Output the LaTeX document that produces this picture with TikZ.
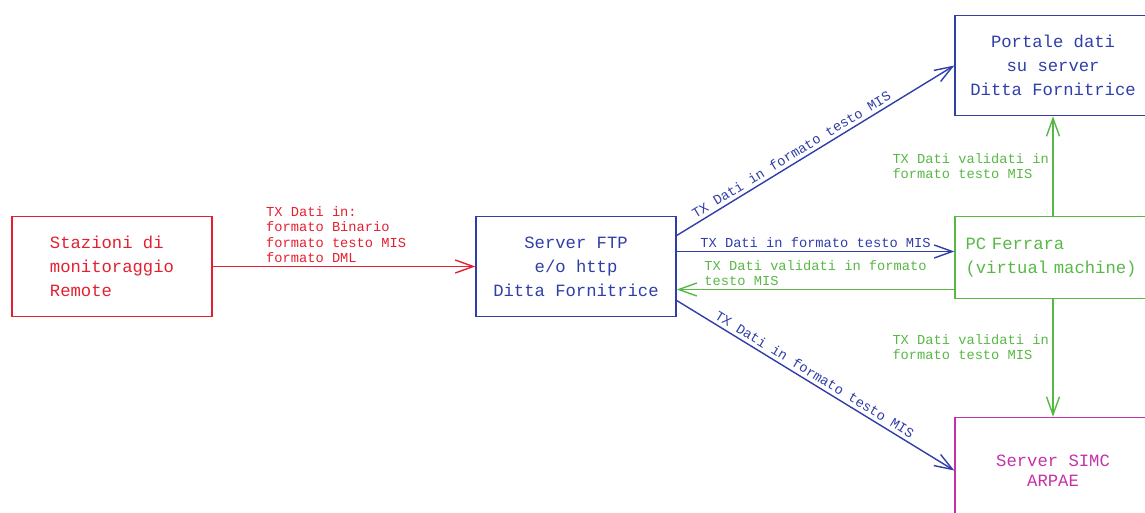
\documentclass[tikz,border=0pt]{standalone}
\usepackage{xcolor}
\usepackage{fontspec}
\setmonofont{Liberation Mono}
\usepackage{tikz}
\usetikzlibrary{positioning}
\usetikzlibrary{arrows.meta}

\definecolor{cadred}{RGB}{228,32,48}
\definecolor{cadblue}{RGB}{48,62,168}
\definecolor{cadgreen}{RGB}{88,184,70}
\definecolor{cadmag}{RGB}{196,50,168}

\begin{document}
\begin{tikzpicture}[-{Straight Barb[length=0.36cm,width=0.26cm]}, line width=0.8pt, on grid, box/.style ={rectangle, draw, minimum width=4cm, minimum height=2cm, font=\ttfamily\fontsize{9.8}{13.6}\selectfont}, lbl/.style={font=\ttfamily\fontsize{7.8}{8.6}\selectfont, inner sep=2pt}]
		\useasboundingbox (0,0) rectangle (22.9,10.24);
		\node[box, cadred, align=left] (remote) at (2.24,4.91) {Stazioni di\\monitoraggio\\Remote};
		\node[box, cadblue, align=center] (ftp) [right = 9.28cm of remote] {Server FTP\\e/o http\\Ditta Fornitrice};
		\node[box, cadgreen, minimum width=3.92cm, minimum height=1.64cm, text width=3.5cm, align=left] (pc) [above right = 0.18cm and 9.54cm of ftp] {PC Ferrara\\(virtual machine)};
		\node[box, cadblue, minimum width=3.92cm, align=center] (portale) [above = 3.84cm of pc] {Portale dati\\su server\\Ditta Fornitrice};
		\node[box, cadmag, minimum width=3.92cm, minimum height=2.12cm, align=center, font=\ttfamily\fontsize{9.8}{11.5}\selectfont] (simc) [below = 4.26cm of pc] {Server SIMC\\ARPAE};
		\draw[cadred] (remote) -- node[lbl, above, align=left, pos=0.47] {TX Dati in:\\formato Binario\\formato testo MIS\\formato DML} (ftp);
		\draw[cadblue] ([yshift=0.62cm]ftp.east) -- node[lbl, above, sloped, pos=0.43] {TX Dati in formato testo MIS} (portale.west);
		\draw[cadblue] ([yshift=0.3cm]ftp.east) -- node[lbl, above] {TX Dati in formato testo MIS} ([yshift=0.3cm]ftp.east -| pc.west);
		\draw[cadgreen] ([yshift=-0.64cm]pc.west) -- node[lbl, above, align=left] {TX Dati validati in formato\\testo MIS} ([yshift=-0.64cm]pc.west -| ftp.east);
		\draw[cadblue] ([yshift=-0.68cm]ftp.east) -- node[lbl, above, sloped, pos=0.48] {TX Dati in formato testo MIS} (simc.west);
		\draw[cadgreen] (pc) -- node[lbl, left, align=left] {TX Dati validati in\\formato testo MIS} (portale);
		\draw[cadgreen] (pc) -- node[lbl, left, align=left, pos=0.41] {TX Dati validati in\\formato testo MIS} (simc);
\end{tikzpicture}
\end{document}
